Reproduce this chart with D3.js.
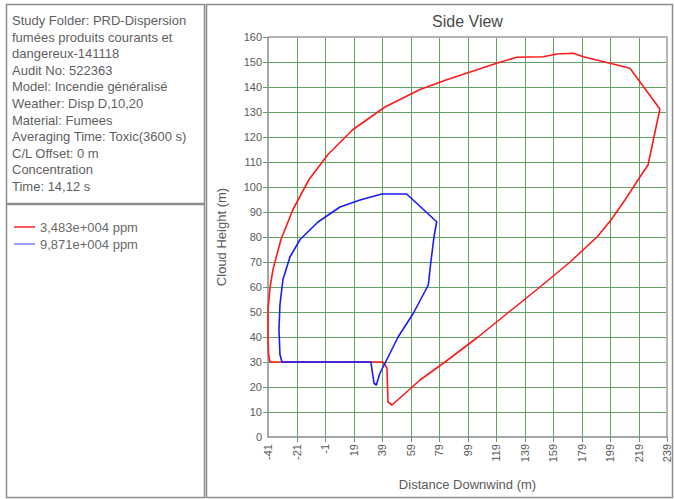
<!DOCTYPE html>
<html>
<head>
<meta charset="utf-8">
<script src="https://cdn.jsdelivr.net/npm/d3@7"></script>
<style>
  body { margin: 0; background: #fff; }
  svg text { font-family: "Liberation Sans", Arial, sans-serif; }
</style>
</head>
<body>
<script>
// chart data
var infoLines = [
  'Study Folder: PRD-Dispersion',
  'fumées produits courants et',
  'dangereux-141118',
  'Audit No: 522363',
  'Model: Incendie généralisé',
  'Weather: Disp D,10,20',
  'Material: Fumees',
  'Averaging Time: Toxic(3600 s)',
  'C/L Offset: 0 m',
  'Concentration',
  'Time: 14,12 s'
];
var seriesNames = ['3,483e+004 ppm', '9,871e+004 ppm'];
var seriesColors = ['#ff1a1a', '#1a1aff'];
var legendColors = ['#ff5c5c', '#9c9cff'];
var xTicks = [-41, -21, -1, 19, 39, 59, 79, 99, 119, 139, 159, 179, 199, 219, 239];
var yTicks = [0, 10, 20, 30, 40, 50, 60, 70, 80, 90, 100, 110, 120, 130, 140, 150, 160];

// outer contour (3,483e+004 ppm)
var redPts = [
  [-39.6, 30], [-40.6, 33], [-41, 40], [-41, 51], [-39.5, 60], [-37.5, 67], [-31.9, 79],
  [-23.5, 91], [-12.2, 103], [1.1, 113], [18.6, 123], [41.1, 132], [65.7, 139],
  [84.4, 142.9], [119.5, 149.5], [133.5, 151.9], [152.2, 152.1], [161.6, 153.2],
  [173.3, 153.5], [180.3, 152.1], [199, 149.5], [213, 147.5], [234, 131.2],
  [225.7, 108.8], [218.6, 102.8], [209.5, 94.8], [199.7, 86.8], [189.9, 80],
  [171, 70], [149.9, 60], [128.1, 50], [106.4, 40], [83.2, 30], [65.7, 22.8],
  [51.6, 15.6], [46, 12.8], [43.2, 14], [42.5, 27.6], [39.7, 30]
];
// inner contour (9,871e+004 ppm)
var bluePts = [
  [-31.2, 30], [-32.6, 33], [-33.3, 43], [-32.6, 53], [-30.5, 63], [-25.6, 72],
  [-18.5, 79], [-5.9, 86], [9.5, 92], [23.6, 94.8], [38.8, 97.2], [56.3, 97.2],
  [77.4, 86.1], [75.5, 80.1], [73.2, 69.6], [71.5, 60.8], [61, 49.5], [50.4, 40.1],
  [41.1, 29.5], [37.6, 25.6], [35, 20.8], [33.4, 21.5], [31.2, 30]
];

var svg = d3.select('body').append('svg').attr('width', 674).attr('height', 499);

// panels
svg.append('rect').attr('x', 6.5).attr('y', 4.5).attr('width', 198).attr('height', 199)
  .attr('fill', 'none').attr('stroke', '#8c8c8c').attr('stroke-width', 1.5);
svg.append('rect').attr('x', 6.5).attr('y', 204.5).attr('width', 198).attr('height', 293)
  .attr('fill', 'none').attr('stroke', '#8c8c8c').attr('stroke-width', 1.5);
svg.append('rect').attr('x', 206.5).attr('y', 4.5).attr('width', 466).attr('height', 493)
  .attr('fill', 'none').attr('stroke', '#8c8c8c').attr('stroke-width', 1.5);

// info text
svg.append('g').selectAll('text').data(infoLines).enter().append('text')
  .attr('x', 12).attr('y', function (d, i) { return 25 + i * 16.6; })
  .attr('font-size', 13).attr('fill', '#5f5f5f').text(function (d) { return d; });

// legend
var leg = svg.append('g').selectAll('g').data(seriesNames).enter().append('g')
  .attr('transform', function (d, i) { return 'translate(0,' + (227 + i * 17) + ')'; });
leg.append('line').attr('x1', 14).attr('x2', 35).attr('y1', 0).attr('y2', 0)
  .attr('stroke', function (d, i) { return legendColors[i]; }).attr('stroke-width', 2);
leg.append('text').attr('x', 40).attr('y', 4.5).attr('font-size', 13).attr('fill', '#6a6a6a')
  .text(function (d) { return d; });

// plot
var x = d3.scaleLinear().domain([-41, 239]).range([268, 667]);
var y = d3.scaleLinear().domain([0, 160]).range([437, 37]);

var grid = svg.append('g').attr('stroke', '#65a065').attr('stroke-width', 1);
grid.selectAll('line.v').data(xTicks.slice(1)).enter().append('line').attr('class', 'v')
  .attr('x1', function (d) { return Math.round(x(d)) + 0.5; })
  .attr('x2', function (d) { return Math.round(x(d)) + 0.5; })
  .attr('y1', y(160)).attr('y2', y(0) + 5);
grid.selectAll('line.h').data(yTicks.slice(1)).enter().append('line').attr('class', 'h')
  .attr('y1', function (d) { return Math.round(y(d)) + 0.5; })
  .attr('y2', function (d) { return Math.round(y(d)) + 0.5; })
  .attr('x1', x(-41) - 5).attr('x2', x(239));

// frame
svg.append('path')
  .attr('d', 'M' + x(-41) + ',' + y(160) + 'H' + x(239) + 'V' + y(0))
  .attr('fill', 'none').attr('stroke', '#b4b4b4').attr('stroke-width', 2);
svg.append('path')
  .attr('d', 'M' + x(-41) + ',' + y(160) + 'V' + y(0) + 'H' + x(239))
  .attr('fill', 'none').attr('stroke', '#8a8a8a').attr('stroke-width', 1.5);

// tick labels (plain hyphen for negatives, as in the reference)
var fmt = function (d) { return String(d); };
svg.append('g').attr('transform', 'translate(' + (x(-41) - 6) + ',0)')
  .call(d3.axisLeft(y).tickValues(yTicks).tickFormat(fmt).tickSize(0).tickPadding(0))
  .call(function (g) { g.select('.domain').remove(); })
  .selectAll('text').attr('font-size', 11).attr('fill', '#5a5a5a')
  .attr('font-family', '"Liberation Sans", Arial, sans-serif');

svg.append('g').attr('transform', 'translate(0,' + (y(0) + 7) + ')')
  .call(d3.axisBottom(x).tickValues(xTicks).tickFormat(fmt).tickSize(0).tickPadding(0))
  .call(function (g) { g.select('.domain').remove(); })
  .selectAll('text').attr('font-size', 11).attr('fill', '#5a5a5a')
  .attr('font-family', '"Liberation Sans", Arial, sans-serif')
  .attr('transform', 'rotate(-90)').attr('text-anchor', 'end')
  .attr('x', 0).attr('y', 0).attr('dy', '0.35em');

// titles
svg.append('text').attr('x', (x(-41) + x(239)) / 2).attr('y', 27).attr('text-anchor', 'middle')
  .attr('font-size', 16).attr('fill', '#4a4a4a').text('Side View');
svg.append('text').attr('x', (x(-41) + x(239)) / 2).attr('y', 489).attr('text-anchor', 'middle')
  .attr('font-size', 13).attr('fill', '#5a5a5a').text('Distance Downwind (m)');
svg.append('text').attr('transform', 'translate(226,' + (y(80)) + ') rotate(-90)')
  .attr('text-anchor', 'middle').attr('font-size', 13).attr('fill', '#5a5a5a').text('Cloud Height (m)');

// contours
var line = d3.line().x(function (d) { return x(d[0]); }).y(function (d) { return y(d[1]); });
svg.append('path').attr('d', line(redPts) + 'Z').attr('fill', 'none')
  .attr('stroke', seriesColors[0]).attr('stroke-width', 1.6).attr('stroke-linejoin', 'round');
svg.append('path').attr('d', line(bluePts) + 'Z').attr('fill', 'none')
  .attr('stroke', seriesColors[1]).attr('stroke-width', 1.6).attr('stroke-linejoin', 'round');
</script>
</body>
</html>
